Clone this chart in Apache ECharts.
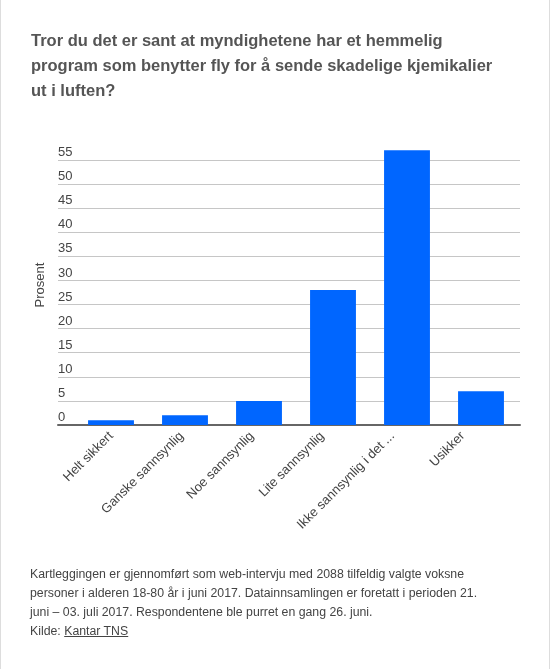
<!DOCTYPE html>
<html>
<head>
<meta charset="utf-8">
<script src="https://cdn.jsdelivr.net/npm/echarts@6/dist/echarts.min.js"></script>
<style>
  html, body { margin: 0; padding: 0; background: #fff; }
  #wrap { position: relative; width: 550px; height: 669px; box-sizing: border-box; border-left: 1px solid #ddd; border-right: 1px solid #ddd; }
  #chart { position: absolute; left: 0; top: 0; width: 550px; height: 669px; }
  #foot { position: absolute; left: 29px; top: 565px; width: 515px; font-family: "Liberation Sans", Arial, sans-serif; font-size: 12.3px; line-height: 19px; color: #444; }
  #foot a { color: #444; text-decoration: underline; }
</style>
</head>
<body>
<div id="wrap">
  <div id="chart"></div>
  <div id="foot">Kartleggingen er gjennomført som web-intervju med 2088 tilfeldig valgte voksne<br>personer i alderen 18-80 år i juni 2017. Datainnsamlingen er foretatt i perioden 21.<br>juni – 03. juli 2017. Respondentene ble purret en gang 26. juni.<br>Kilde: <a href="#">Kantar TNS</a></div>
</div>
<script>
const titleText = 'Tror du det er sant at myndighetene har et hemmelig\nprogram som benytter fly for å sende skadelige kjemikalier\nut i luften?';
const categories = ['Helt sikkert', 'Ganske sannsynlig', 'Noe sannsynlig', 'Lite sannsynlig', 'Ikke sannsynlig i det hele tatt', 'Usikker'];
const values = [1, 2, 5, 28, 57, 7];
const yTicks = { min: 0, max: 55, interval: 5 };
const yName = 'Prosent';

const chart = echarts.init(document.getElementById('chart'), null, { renderer: 'canvas' });
chart.setOption({
  animation: false,
  textStyle: { fontFamily: 'Liberation Sans, Arial, sans-serif' },
  title: {
    text: titleText,
    left: 30, top: 29, padding: 0,
    textStyle: { fontSize: 16.5, fontWeight: 'bold', color: '#555', lineHeight: 25 }
  },
  grid: [
    { left: 57, right: 31, top: 160, bottom: 244 },
    { left: 73, right: 33, top: 160, bottom: 244 },
    { left: 75, right: 53, top: 160, bottom: 244 }
  ],
  xAxis: [
    {
      gridIndex: 0, type: 'value', min: 0, max: 1,
      axisLine: { show: true, onZero: false, lineStyle: { color: '#666', width: 2 } },
      axisTick: { show: false }, axisLabel: { show: false }, splitLine: { show: false }
    },
    {
      gridIndex: 1, type: 'category', data: categories,
      axisLine: { show: false }, axisTick: { show: false }, axisLabel: { show: false }
    },
    {
      gridIndex: 2, type: 'category', data: categories,
      axisLine: { show: false },
      axisTick: { show: false },
      axisLabel: {
        rotate: 45, interval: 0, fontSize: 13, color: '#444', margin: 9,
        formatter: v => v.length > 22 ? v.slice(0, 21) + ' ...' : v
      }
    }
  ],
  yAxis: [
    {
      gridIndex: 0, type: 'value',
      min: yTicks.min, max: yTicks.max, interval: yTicks.interval,
      name: yName, nameLocation: 'middle', nameGap: 4,
      nameTextStyle: { fontSize: 13, color: '#444', padding: [0, 0, 0, 15] },
      axisLine: { show: false },
      axisTick: { show: false },
      splitLine: { lineStyle: { color: '#c6c6c6', width: 1 } },
      axisLabel: { inside: true, margin: 0, fontSize: 13, color: '#444', verticalAlign: 'bottom', padding: [0, 0, 1, 0] }
    },
    {
      gridIndex: 1, type: 'value',
      min: yTicks.min, max: yTicks.max, interval: yTicks.interval,
      show: false
    },
    {
      gridIndex: 2, type: 'value',
      min: yTicks.min, max: yTicks.max, interval: yTicks.interval,
      show: false
    }
  ],
  series: [{
    type: 'bar',
    xAxisIndex: 1, yAxisIndex: 1,
    data: values,
    clip: false,
    barCategoryGap: '38%',
    itemStyle: { color: '#0066ff' }
  }]
});
</script>
</body>
</html>
